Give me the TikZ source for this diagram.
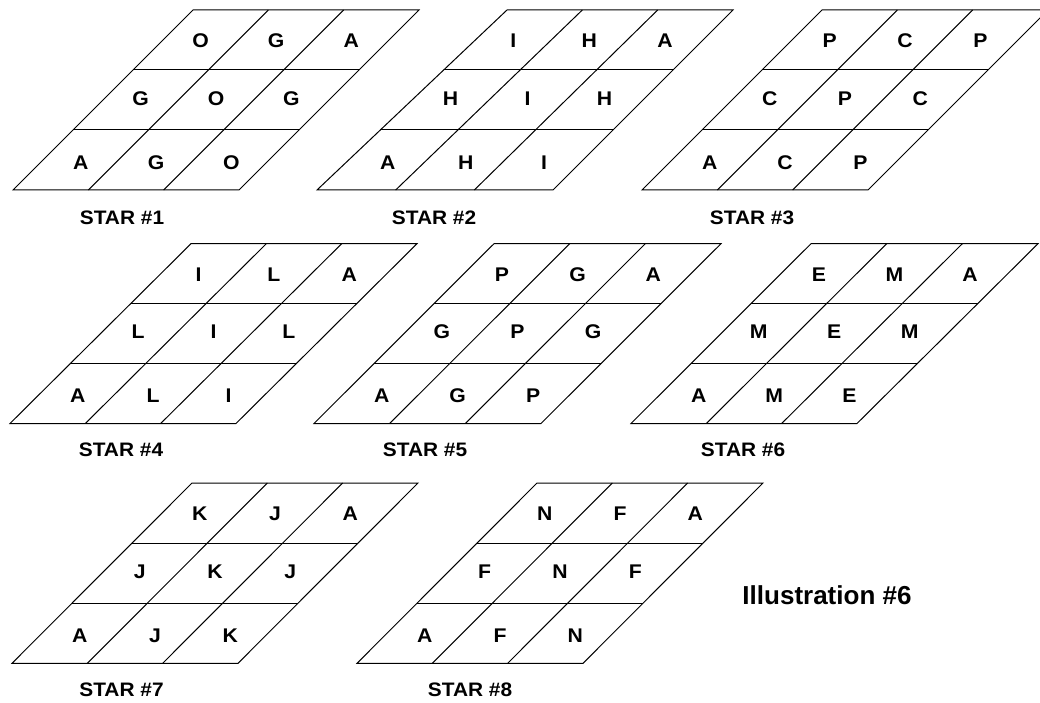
\documentclass[tikz,border=0pt]{standalone}
\usepackage{fontspec}
\newfontfamily\hv{Liberation Sans}
\usetikzlibrary{calc}
\tikzset{
  gridline/.style={line width=1pt, line join=miter},
  cellletter/.style={font=\hv\bfseries\fontsize{19.8}{22}\selectfont, inner sep=0pt, anchor=base},
  starlabel/.style={font=\hv\bfseries\fontsize{19.5}{22}\selectfont, inner sep=0pt},
  titlelabel/.style={font=\hv\bfseries\fontsize{26}{30}\selectfont, inner sep=0pt},
  toprow/.style={yshift=-7.8pt},
  midrow/.style={yshift=-5.1pt},
  botrow/.style={yshift=-9.1pt},
}
\newcommand\wide[1]{\scalebox{1.07}[1]{#1}}
% #1 name, #2 TLx, #3 TRx, #4 BLx, #5 BRx, #6 ytop, #7 ybot
\newcommand\setgrid[7]{%
  \def\gp{#1}%
  \coordinate (#1TL) at (#2,#6);
  \coordinate (#1TR) at (#3,#6);
  \coordinate (#1BL) at (#4,#7);
  \coordinate (#1BR) at (#5,#7);
  \draw[gridline] (#1TL) -- (#1TR) -- (#1BR) -- (#1BL) -- cycle;
  \foreach \t in {1,2}{
    \pgfmathsetmacro\tf{\t/3}
    \draw[gridline] ($(#1TL)!\tf!(#1BL)$) -- ($(#1TR)!\tf!(#1BR)$);
    \draw[gridline] ($(#1TL)!\tf!(#1TR)$) -- ($(#1BL)!\tf!(#1BR)$);
  }
  \foreach \r in {0,1,2}{
    \foreach \c in {0,1,2}{
      \pgfmathsetmacro\uu{(\c+0.5)/3}
      \pgfmathsetmacro\vv{(\r+0.5)/3}
      \coordinate (#1c\r\c) at ($($(#1TL)!\uu!(#1TR)$)!\vv!($(#1BL)!\uu!(#1BR)$)$);
    }
  }
}
\newcommand\putletters[9]{%
  \node[cellletter,toprow] (\gp l1) at (\gp c00) {\wide{#1}};
  \node[cellletter,toprow] (\gp l2) at (\gp c01) {\wide{#2}};
  \node[cellletter,toprow] (\gp l3) at (\gp c02) {\wide{#3}};
  \node[cellletter,midrow] (\gp l4) at (\gp c10) {\wide{#4}};
  \node[cellletter,midrow] (\gp l5) at (\gp c11) {\wide{#5}};
  \node[cellletter,midrow] (\gp l6) at (\gp c12) {\wide{#6}};
  \node[cellletter,botrow] (\gp l7) at (\gp c20) {\wide{#7}};
  \node[cellletter,botrow] (\gp l8) at (\gp c21) {\wide{#8}};
  \node[cellletter,botrow] (\gp l9) at (\gp c22) {\wide{#9}};
}
\begin{document}
\begin{tikzpicture}[x=1pt,y=-1pt]
\clip (0,0) rectangle (1040,703);
\fill[white] (0,0) rectangle (1040,703);

\setgrid{G1}{193}{419}{13}{239}{10}{190}
\putletters{O}{G}{A}{G}{O}{G}{A}{G}{O}
\node[starlabel] (L1) at (122,218) {\wide{STAR \#1}};

\setgrid{G2}{507}{733}{317}{553}{10}{190}
\putletters{I}{H}{A}{H}{I}{H}{A}{H}{I}
\node[starlabel] (L2) at (434,218) {\wide{STAR \#2}};

\setgrid{G3}{822}{1048}{642}{868}{10}{190}
\putletters{P}{C}{P}{C}{P}{C}{A}{C}{P}
\node[starlabel] (L3) at (752,218) {\wide{STAR \#3}};

\setgrid{G4}{191}{417}{10}{236}{243.7}{423.5}
\putletters{I}{L}{A}{L}{I}{L}{A}{L}{I}
\node[starlabel] (L4) at (121,450) {\wide{STAR \#4}};

\setgrid{G5}{494}{721}{314}{541}{243.7}{423.5}
\putletters{P}{G}{A}{G}{P}{G}{A}{G}{P}
\node[starlabel] (L5) at (425,450) {\wide{STAR \#5}};

\setgrid{G6}{811}{1038}{631}{857}{243.7}{423.5}
\putletters{E}{M}{A}{M}{E}{M}{A}{M}{E}
\node[starlabel] (L6) at (743,450) {\wide{STAR \#6}};

\setgrid{G7}{192}{418}{12}{238}{483}{663.3}
\putletters{K}{J}{A}{J}{K}{J}{A}{J}{K}
\node[starlabel] (L7) at (121.5,690) {\wide{STAR \#7}};

\setgrid{G8}{537}{763}{357}{583}{483}{663.3}
\putletters{N}{F}{A}{F}{N}{F}{A}{F}{N}
\node[starlabel] (L8) at (470,690) {\wide{STAR \#8}};

\node[titlelabel] (T) at (827,595) {Illustration \#6};
\end{tikzpicture}
\end{document}
